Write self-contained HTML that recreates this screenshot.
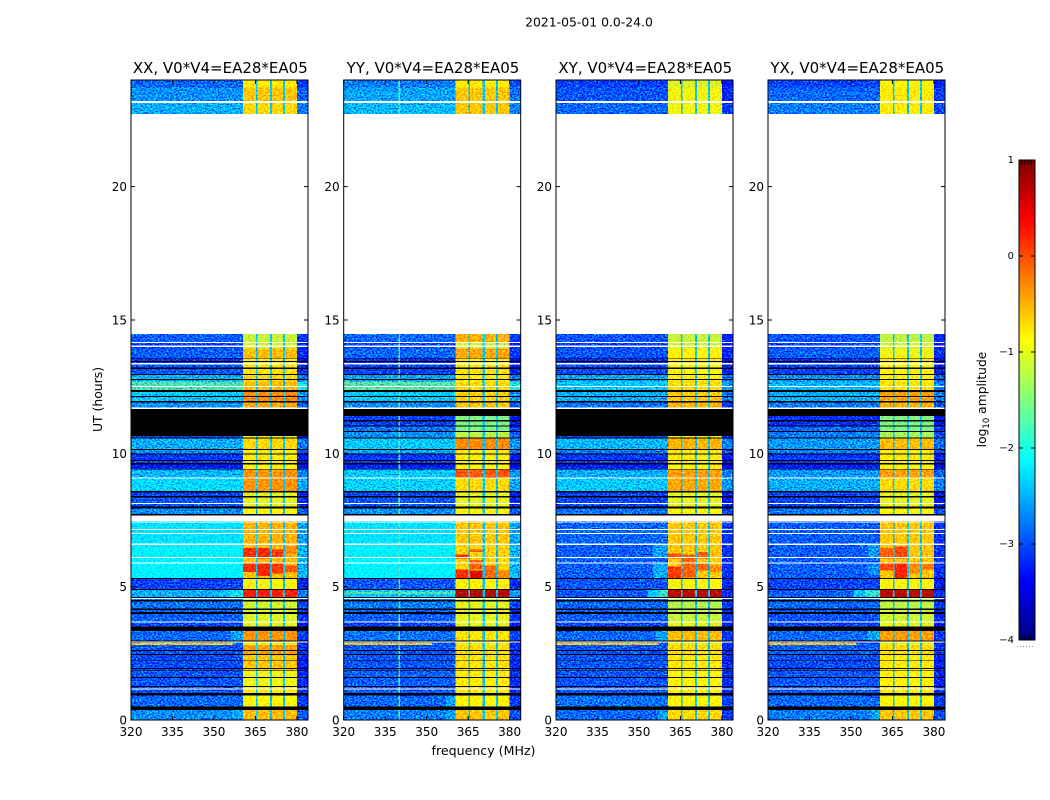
<!DOCTYPE html>
<html lang="en">
<head>
<meta charset="utf-8">
<title>2021-05-01 spectrogram</title>
<style>
html,body{margin:0;padding:0;background:#fff;}
svg{display:block;}
text{font-family:"DejaVu Sans","Liberation Sans",sans-serif;fill:#000;}
</style>
</head>
<body>
<svg id="chart" xmlns="http://www.w3.org/2000/svg" width="1050" height="800" viewBox="0 0 1050 800">
  <defs>
    <filter id="grain-strong" x="0" y="0" width="1" height="1" color-interpolation-filters="sRGB">
      <feTurbulence type="fractalNoise" baseFrequency="0.55 0.7" numOctaves="1" seed="7" result="n"/>
      <feColorMatrix in="n" type="matrix" values="0 0 0 0 0.527  1 0 0 0 0  0 0 0 0 0.527  0 0 0 0 1" result="g"/>
      <feComposite in="SourceGraphic" in2="g" operator="arithmetic" k1="0" k2="1" k3="2.2" k4="-1.16" result="m"/>
      <feComposite in="m" in2="SourceAlpha" operator="in"/>
    </filter>
    <filter id="grain-mild" x="0" y="0" width="1" height="1" color-interpolation-filters="sRGB">
      <feTurbulence type="fractalNoise" baseFrequency="0.5 0.65" numOctaves="1" seed="3" result="n"/>
      <feColorMatrix in="n" type="matrix" values="0 0 0 0 0.5  1 0 0 0 0  0 0 0 0 0.5  0 0 0 0 1" result="g"/>
      <feComposite in="SourceGraphic" in2="g" operator="arithmetic" k1="0" k2="1" k3="1" k4="-0.5" result="m"/>
      <feComposite in="m" in2="SourceAlpha" operator="in"/>
    </filter>
    <linearGradient id="jet-gradient" x1="0" y1="1" x2="0" y2="0"></linearGradient>
  </defs>
  <text x="589" y="26.5" font-size="12.4" text-anchor="middle">2021-05-01 0.0-24.0</text>
  <text x="483.5" y="755" font-size="12.6" text-anchor="middle">frequency (MHz)</text>
  <text transform="translate(102 399.5) rotate(-90)" font-size="12.4" text-anchor="middle">UT (hours)</text>
  <text transform="translate(986 399.5) rotate(-90)" font-size="12.3" text-anchor="middle">log<tspan font-size="8.5" dy="3">10</tspan><tspan dy="-3"> amplitude</tspan></text>
  <g id="panels"></g>
  <g id="colorbar"></g>
</svg>
<script>
// ---------- chart data (hours, MHz, log10 amplitude) ----------
const panelTitles = ['XX, V0*V4=EA28*EA05', 'YY, V0*V4=EA28*EA05', 'XY, V0*V4=EA28*EA05', 'YX, V0*V4=EA28*EA05'];
const timeTicks = [0, 5, 10, 15, 20];
const freqTicks = [320, 335, 350, 365, 380];
const colorTicks = [1, 0, -1, -2, -3, -4];

// Time band boundaries; band i spans bandEdges[i]..bandEdges[i+1]
const bandEdges = [0, .375, .91, 1.24, 1.84, 2.44, 2.82, 2.97, 3.34, 3.69, 4.19, 4.59, 4.88, 5.31, 6.6, 7.47, 7.95, 8.38, 8.58, 9.08, 9.39, 9.6, 9.96, 10.16, 10.6, 10.84, 11.04, 11.4, 11.7, 11.96, 12.3, 12.69, 12.94, 13.35, 13.56, 13.93, 14.16, 14.475, 22.725, 23.16, 23.71, 24];

// Continuum level per band, for XX, YY, XY, YX
const continuumLevels = [
  [-2.6,-2.7,-2.8,-2.7],[-2.8,-2.8,-2.75,-2.8],[-2.9,-2.9,-2.9,-2.9],[-2.9,-2.85,-2.9,-2.9],
  [-2.95,-2.9,-2.9,-2.95],[-2.9,-2.9,-2.9,-2.85],[-2.9,-2.9,-2.9,-2.9],[-2.8,-2.75,-2.8,-2.8],
  [-3,-3,-3,-3],[-2.85,-2.85,-2.85,-2.9],[-2.75,-2.7,-2.8,-2.8],[-2.45,-2.3,-2.9,-2.85],
  [-3,-2.9,-2.9,-3],[-2.16,-2.16,-2.85,-2.85],[-2.26,-2.26,-2.8,-2.85],[-2.6,-2.6,-2.75,-2.7],[-2.9,-2.9,-3,-3],
  [-3,-3,-3,-3],[-2.2,-2.25,-2.3,-2.45],[-2.4,-2.3,-2.45,-2.55],[-3.2,-3.2,-3.2,-3.2],
  [-3.05,-3.05,-3.05,-3.05],[-2.6,-2.5,-2.7,-2.7],[-2.45,-2.3,-2.4,-2.55],[-3,-2.6,-3,-2.7],
  [-3,-2.75,-3,-2.8],[-3,-3,-3,-3.1],[-3,-3,-3,-3],[-2.6,-2.6,-2.75,-2.7],
  [-2.3,-2.3,-2.45,-2.45],[-1.75,-1.7,-2.3,-2.4],[-2.45,-2.5,-2.5,-2.6],[-2.9,-3,-2.95,-3],
  [-3.1,-3.1,-3.1,-3.1],[-2.85,-2.8,-2.9,-2.85],[-3,-3,-3,-3],[-2.85,-2.8,-2.9,-2.9],
  null,[-2.45,-2.4,-2.8,-2.7],[-2.6,-2.5,-2.9,-2.8],[-2.8,-2.7,-3,-3]
];

// Level of the four bright sub-bands per band, for XX, YY, XY, YX
const blockLevels = [
  [-.55,-.6,-.7,-.6],[-.9,-.9,-.9,-.9],[-.8,-.8,-.8,-.8],[-.95,-.8,-.9,-.85],
  [-.6,-.75,-.8,-.8],[-.4,-.7,-.7,-.7],[-1,-1,-1,-1],[-.35,-.75,-.55,-.4],
  [-1,-1,-1,-1],[-1.05,-1,-1.15,-1.1],[-1.1,-1,-1.25,-1.2],[.25,.75,.7,.7],
  [-.9,-.85,-.9,-.9],[-.55,-.65,-.6,-.6],[-.5,-.6,-.6,-.6],[-.9,-.9,-.9,-.9],[-1,-1,-1,-1],
  [-1,-1,-1,-1],[-.35,-.7,-.45,-.7],[-.35,-.05,-.4,-.4],[-.9,-.9,-.9,-.9],
  [-.8,-.8,-.8,-.8],[-.8,-.8,-.8,-.8],[-.7,-.3,-.5,-.55],[-.9,-1.2,-.9,-1.3],
  [-.9,-1.5,-.9,-1.5],[-.9,-1.5,-.9,-1.5],[-.9,-1.5,-.9,-1.5],[-.45,-.6,-.5,-.5],
  [-.3,-.65,-.6,-.4],[-.55,-.7,-.7,-.75],[-.7,-.8,-.85,-.85],[-.75,-.75,-.9,-.85],
  [-.8,-.8,-.8,-.8],[-.55,-.45,-.85,-.95],[-1.1,-1.1,-1.1,-1.1],[-1.15,-.5,-1.15,-1.2],
  null,[-.7,-.6,-.95,-.8],[-.6,-.6,-.95,-.8],[-.8,-.8,-1.05,-.9]
];

// Bands whose bright continuum looks smooth rather than speckled
const smoothBands = [13, 14];

// Frequency layout in MHz
const freqRange = [320, 384];
const timeRange = [0, 24];
const continuumEnd = 360.5;
const blockRanges = [[360.5,365.2],[365.7,370.2],[371,375],[375.7,380]];
const gapLevel = -2.4;
const upperEdgeOffset = -0.25;

// [panel, block, tLow, tHigh, level]
const hotSpots = [
  [0,0,6.1,6.45,.15],[0,1,6.05,6.45,.2],[0,2,6.1,6.4,.1],[0,0,5.55,5.9,.15],[0,1,5.4,5.9,.2],[0,2,5.5,5.9,.1],[0,3,5.55,5.8,-.05],[0,3,6.2,6.5,-.3],
  [1,0,6.05,6.2,.2],[1,0,5.31,5.65,.15],[1,1,5.31,5.6,.5],[1,1,5.65,6,-.1],[1,2,5.31,5.8,-.15],[1,3,5.31,5.6,-.3],[1,1,6.3,6.4,-.1],
  [2,0,5.31,5.75,.1],[2,0,6.05,6.25,0],[2,1,5.35,6.2,-.1],[2,2,5.6,5.85,-.1],[2,2,6.05,6.3,-.1],[2,3,5.55,5.8,-.3],
  [3,0,6.05,6.45,-.1],[3,0,5.6,5.9,0],[3,1,6.05,6.5,0],[3,1,5.31,5.9,.2],[3,2,5.5,5.9,-.3],[3,3,5.65,5.85,-.2]
];

// [panel, fLow, fHigh, tLow, tHigh, level]
const continuumFeatures = [
  [0,320,357,2.82,2.89,-.7],[1,320,352,2.82,2.89,-.7],[2,320,357,2.82,2.89,-.7],[3,320,352,2.82,2.89,-.7],
  [1,339.9,340.3,0,14.475,-1.7],[1,339.9,340.3,22.725,24,-1.7],
  [0,352,356,4.59,4.88,-2.35],[0,356,360.5,4.59,4.88,-2.05],[2,353,357,4.59,4.88,-2.3],[2,357,360.5,4.59,4.88,-1.9],
  [3,351,355,4.59,4.88,-2.3],[3,355,360.5,4.59,4.88,-1.9],[1,320,360.5,4.72,4.82,-1.75],
  [2,355,360.5,5.31,5.9,-2.45],[2,355,360.5,6.1,6.6,-2.5],[3,356,360.5,6.1,6.6,-2.55],[3,356,360.5,5.45,5.9,-2.6],
  [0,357,360.5,0,.375,-2.45],[1,357,360.5,0,.375,-2.5],[2,357,360.5,0,.375,-2.5],[3,357,360.5,0,.375,-2.5],
  [1,357,360.5,.5,.91,-2.5],[0,356,360.5,2.97,3.34,-2.5],[2,356,360.5,2.97,3.34,-2.5],[3,356,360.5,2.97,3.34,-2.5]
];

// Blanked integrations: [tLow, tHigh]
const whiteFlags = [
  [23.13,23.22],[14.13,14.17],[13.99,14.04],[13.33,13.39],[12.49,12.53],[11.66,11.72],[9.05,9.09],[8.1,8.14],
  [7.47,7.66],[7.40,7.44],[7.13,7.17],[6.98,7.02],[6.57,6.61],[6.08,6.12],[5.86,5.9],[4.53,4.58],[3.65,3.69],[2.91,2.95],[1.14,1.18]
];
const blackFlags = [
  [.375,.5],[.91,1.02],[1.24,1.27],[1.58,1.61],[1.83,1.86],[1.92,1.95],[2.21,2.24],[2.44,2.48],[2.58,2.62],[2.95,2.98],
  [3.34,3.5],[3.97,4.05],[4.125,4.19],[4.44,4.5],[4.58,4.61],[4.88,4.92],[5.29,5.33],[7.67,7.72],[7.94,8],[8.35,8.4],
  [8.53,8.58],[9.39,9.42],[9.58,9.63],[9.72,9.75],[9.96,9.99],[10.12,10.16],[10.56,10.6],[11.4,11.67],[11.91,11.96],
  [12.11,12.15],[12.3,12.375],[12.75,12.79],[12.94,12.98],[13.16,13.22],[13.43,13.46],[13.55,13.58]
];
// [panel, tLow, tHigh]
const panelBlackFlags = [
  [0,10.65,11.4],[2,10.65,11.4],
  [1,11.2,11.25],[1,11,11.04],[1,10.8,10.84],
  [3,11.2,11.25],[3,11,11.04],[3,10.8,10.84]
];

// ---------- layout ----------
const panelLefts = [131, 343.7, 556, 768];
const panelWidth = 177, plotTop = 80, plotBottom = 720;
const cbLeft = 1019, cbWidth = 16, cbTop = 160, cbBottom = 640;
const colorRange = [-4, 1];
const NS = 'http://www.w3.org/2000/svg';

function make(tag, attrs, parent, text) {
  const el = document.createElementNS(NS, tag);
  for (const k in attrs) el.setAttribute(k, attrs[k]);
  if (text !== undefined) el.textContent = text;
  parent.appendChild(el);
  return el;
}
const xScale = (p, f) => panelLefts[p] + (f - freqRange[0]) / (freqRange[1] - freqRange[0]) * panelWidth;
const yScale = t => plotBottom - (t - timeRange[0]) / (timeRange[1] - timeRange[0]) * (plotBottom - plotTop);
const colorY = v => cbBottom - (v - colorRange[0]) / (colorRange[1] - colorRange[0]) * (cbBottom - cbTop);
function jet(level) {
  const f = Math.min(1, Math.max(0, (level - colorRange[0]) / (colorRange[1] - colorRange[0])));
  const ch = c => Math.round(255 * Math.min(1, Math.max(0, 1.5 - Math.abs(4 * f - c))));
  return 'rgb(' + ch(3) + ',' + ch(2) + ',' + ch(1) + ')';
}
function cell(parent, p, f0, f1, t0, t1, fill, name) {
  const x0 = xScale(p, f0), x1 = xScale(p, f1), y0 = yScale(t1), y1 = yScale(t0);
  const el = make('rect', {x: x0.toFixed(2), y: y0.toFixed(2), width: (x1 - x0).toFixed(2), height: (y1 - y0).toFixed(2), fill: fill}, parent);
  
  
  return el;
}

const panelsGroup = document.getElementById('panels');
panelTitles.forEach(function (title, p) {
  const group = make('g', {}, panelsGroup);
  
  

  const mild = make('g', {filter: 'url(#grain-mild)', 'shape-rendering': 'crispEdges'}, group);
  
  
  const strong = make('g', {filter: 'url(#grain-strong)', 'shape-rendering': 'crispEdges'}, group);
  
  

  continuumLevels.forEach(function (row, i) {
    if (!row) return;
    const t0 = bandEdges[i], t1 = bandEdges[i + 1];
    const smooth = smoothBands.indexOf(i) >= 0 && row[p] > -2.3;
    cell(smooth ? mild : strong, p, freqRange[0], continuumEnd, t0, t1, jet(row[p]), 'continuum-cell');
    cell(strong, p, blockRanges[3][1], freqRange[1], t0, t1, jet(row[p] + upperEdgeOffset), 'upper-edge-cell');
    cell(mild, p, blockRanges[0][0], blockRanges[3][1], t0, t1, jet(gapLevel), 'subband-gap-cell');
    blockRanges.forEach(function (b) {
      cell(mild, p, b[0], b[1], t0, t1, jet(blockLevels[i][p]), 'subband-cell');
    });
  });
  hotSpots.forEach(function (h) {
    if (h[0] !== p) return;
    cell(mild, p, blockRanges[h[1]][0], blockRanges[h[1]][1], h[2], h[3], jet(h[4]), 'subband-hot-spot');
  });
  continuumFeatures.forEach(function (c) {
    if (c[0] !== p) return;
    cell(strong, p, c[1], c[2], c[3], c[4], jet(c[5]), 'continuum-feature');
  });

  const flags = make('g', {'shape-rendering': 'crispEdges'}, group);
  
  
  blackFlags.forEach(function (r) {
    cell(flags, p, freqRange[0], freqRange[1], r[0], r[1], '#000', 'flag-black');
  });
  panelBlackFlags.forEach(function (r) {
    if (r[0] !== p) return;
    cell(flags, p, freqRange[0], freqRange[1], r[1], r[2], '#000', 'flag-black');
  });
  whiteFlags.forEach(function (r) {
    cell(flags, p, freqRange[0], freqRange[1], r[0], r[1], '#fff', 'flag-white');
  });

  const left = panelLefts[p], right = left + panelWidth;
  const frame = make('rect', {x: left, y: plotTop, width: panelWidth, height: plotBottom - plotTop, fill: 'none', stroke: '#000', 'stroke-width': 1}, group);
  
  

  const panelTitle = make('text', {x: left + panelWidth / 2 + 0.8, y: 73, 'font-size': 15, 'text-anchor': 'middle'}, group, title);
  
  

  timeTicks.forEach(function (t) {
    const y = yScale(t);
    const a = make('path', {d: 'M' + left + ' ' + y + 'h4M' + right + ' ' + y + 'h-4', stroke: '#000', 'stroke-width': 1, fill: 'none'}, group);
    
    
    const label = make('text', {x: left - 4, y: y + 4.5, 'font-size': 12, 'text-anchor': 'end'}, group, String(t));
    
    
  });
  freqTicks.forEach(function (f) {
    const x = xScale(p, f);
    const a = make('path', {d: 'M' + x + ' ' + plotBottom + 'v-4M' + x + ' ' + plotTop + 'v4', stroke: '#000', 'stroke-width': 1, fill: 'none'}, group);
    
    
    const label = make('text', {x: x, y: 736, 'font-size': 12, 'text-anchor': 'middle'}, group, String(f));
    
    
  });
});

// ---------- colorbar ----------
const gradient = document.getElementById('jet-gradient');
const stopCount = 40;
for (let i = 0; i <= stopCount; i++) {
  const v = colorRange[0] + (colorRange[1] - colorRange[0]) * i / stopCount;
  make('stop', {offset: (i / stopCount * 100) + '%', 'stop-color': jet(v)}, gradient);
}
const cb = document.getElementById('colorbar');
const cbBar = make('rect', {x: cbLeft, y: cbTop, width: cbWidth, height: cbBottom - cbTop, fill: 'url(#jet-gradient)', stroke: '#000', 'stroke-width': 1}, cb);


colorTicks.forEach(function (v) {
  const y = colorY(v);
  const tick = make('path', {d: 'M' + cbLeft + ' ' + y + 'h4M' + (cbLeft + cbWidth) + ' ' + y + 'h-4', stroke: '#000', 'stroke-width': 1, fill: 'none'}, cb);
  
  
  const label = make('text', {x: cbLeft - 5, y: y + 3, 'font-size': 10, 'text-anchor': 'end'}, cb, v < 0 ? '\u2212' + Math.abs(v) : String(v));
  
  
});
[1022, 1025, 1028, 1031].forEach(function (x) {
  const top = make('path', {d: 'M' + x + ' ' + cbTop + 'v5M' + x + ' ' + cbBottom + 'v-5', stroke: '#000', 'stroke-width': 1, fill: 'none'}, cb);
  
  
});
const dots = make('line', {x1: 1017, x2: 1035, y1: 646.5, y2: 646.5, stroke: '#999', 'stroke-width': 1, 'stroke-dasharray': '1 2'}, cb);


</script>
</body>
</html>
